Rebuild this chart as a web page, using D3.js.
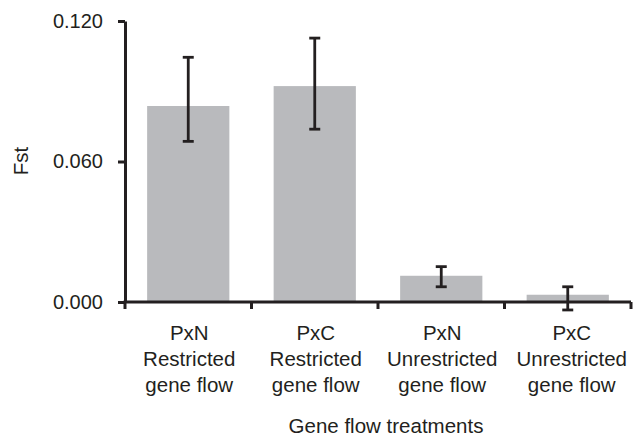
<!DOCTYPE html>
<html>
<head>
<meta charset="utf-8">
<script src="https://cdn.jsdelivr.net/npm/d3@7"></script>
<style>
  body { margin: 0; background: #fff; }
  svg { font-family: "Liberation Sans", Arial, sans-serif; }
</style>
</head>
<body>
<div id="vis"></div>
<script>
const FRAME_WIDTH = 642;
const FRAME_HEIGHT = 438;
const MARGINS = {left: 125, right: 11, top: 21, bottom: 136};
const FONT = "20.5px";

// data
const treatments = ["PxN|Restricted|gene flow", "PxC|Restricted|gene flow",
                    "PxN|Unrestricted|gene flow", "PxC|Unrestricted|gene flow"];
const fstMeans = [0.0837, 0.0922, 0.0112, 0.0031];
const fstLower = [0.0686, 0.0738, 0.0065, -0.0034];
const fstUpper = [0.1045, 0.1127, 0.0151, 0.0065];
const yTicks = [0, 0.06, 0.12];

const VIS_WIDTH = FRAME_WIDTH - MARGINS.left - MARGINS.right;
const VIS_HEIGHT = FRAME_HEIGHT - MARGINS.top - MARGINS.bottom;

const svg = d3.select("#vis")
  .append("svg")
    .attr("width", FRAME_WIDTH)
    .attr("height", FRAME_HEIGHT);

const X_SCALE = d3.scaleBand()
  .domain(treatments)
  .range([MARGINS.left, MARGINS.left + VIS_WIDTH])
  .padding(0);

const Y_SCALE = d3.scaleLinear()
  .domain([0, 0.12])
  .range([MARGINS.top + VIS_HEIGHT, MARGINS.top]);

const barW = X_SCALE.bandwidth() * 0.65;
const ink = "#231f20";

// bars
svg.selectAll(".bar")
  .data(treatments)
  .enter()
  .append("rect")
    .attr("x", (d) => X_SCALE(d) + (X_SCALE.bandwidth() - barW) / 2)
    .attr("y", (d, i) => Y_SCALE(fstMeans[i]))
    .attr("width", barW)
    .attr("height", (d, i) => Y_SCALE(0) - Y_SCALE(fstMeans[i]))
    .attr("fill", "#b9babd");

// error bars
const cx = (d) => X_SCALE(d) + X_SCALE.bandwidth() / 2;
const err = svg.append("g").attr("stroke", ink).attr("stroke-width", 2.8);
err.selectAll(".stem")
  .data(treatments)
  .enter()
  .append("line")
    .attr("x1", cx).attr("x2", cx)
    .attr("y1", (d, i) => Y_SCALE(fstLower[i]))
    .attr("y2", (d, i) => Y_SCALE(fstUpper[i]));
[fstLower, fstUpper].forEach((vals) => {
  err.selectAll(null)
    .data(treatments)
    .enter()
    .append("line")
      .attr("x1", (d) => cx(d) - 5.5)
      .attr("x2", (d) => cx(d) + 5.5)
      .attr("y1", (d, i) => Y_SCALE(vals[i]))
      .attr("y2", (d, i) => Y_SCALE(vals[i]));
});

// y axis
const yAxis = svg.append("g")
  .attr("transform", "translate(" + MARGINS.left + ",0)")
  .call(d3.axisLeft(Y_SCALE).tickValues(yTicks).tickFormat(d3.format(".3f"))
          .tickSize(7).tickSizeOuter(0).tickPadding(15));
yAxis.select(".domain").attr("stroke", ink).attr("stroke-width", 3);
yAxis.selectAll(".tick line").attr("stroke", ink).attr("stroke-width", 3);
yAxis.selectAll(".tick text").attr("font-size", "20px").attr("fill", ink)
  .attr("font-family", "Liberation Sans, Arial, sans-serif");

// x axis: line with ticks at band boundaries
const x0 = X_SCALE.range()[0], x1 = X_SCALE.range()[1];
const xAxis = svg.append("g").attr("stroke", ink).attr("stroke-width", 3);
xAxis.append("line")
  .attr("x1", x0 - 1.5).attr("x2", x1)
  .attr("y1", Y_SCALE(0)).attr("y2", Y_SCALE(0));
const edges = treatments.map((d) => X_SCALE(d)).concat([x1]);
xAxis.selectAll(".xt")
  .data(edges)
  .enter()
  .append("line")
    .attr("x1", (d) => d).attr("x2", (d) => d)
    .attr("y1", Y_SCALE(0)).attr("y2", Y_SCALE(0) + 7);

// category labels
const lineY = [340, 366, 392];
svg.selectAll(".cat")
  .data(treatments)
  .enter()
  .append("text")
    .attr("text-anchor", "middle")
    .attr("font-size", FONT)
    .attr("fill", ink)
    .each(function (d, i) {
      const shift = i === 3 ? 4 : 1;
      d3.select(this).selectAll("tspan")
        .data(d.split("|"))
        .enter()
        .append("tspan")
          .attr("x", cx(d) + shift)
          .attr("y", (t, j) => lineY[j])
          .text((t) => t);
    });

// axis titles
svg.append("text")
  .attr("x", 386).attr("y", 433)
  .attr("text-anchor", "middle")
  .attr("font-size", FONT)
  .attr("fill", ink)
  .text("Gene flow treatments");

svg.append("text")
  .attr("transform", "translate(28,161) rotate(-90)")
  .attr("text-anchor", "middle")
  .attr("font-size", FONT)
  .attr("fill", ink)
  .text("Fst");
</script>
</body>
</html>
